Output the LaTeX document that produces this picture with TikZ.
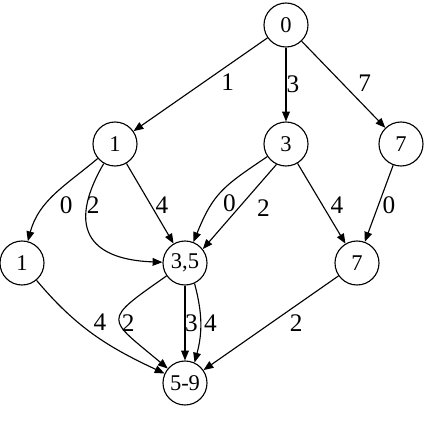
\documentclass[tikz,border=0pt]{standalone}
\usepackage{fontspec}
\setmainfont{Liberation Serif}
\usetikzlibrary{arrows.meta}

\begin{document}
\begin{tikzpicture}[
  st/.style={circle, draw, line width=0.8pt, minimum size=1.1cm, inner sep=0pt, font=\fontsize{16}{18}\selectfont},
  ed/.style={-{Triangle[length=7pt,width=5.5pt]}, line width=0.8pt},
  lbl/.style={font=\fontsize{18}{20}\selectfont, inner sep=0pt}
]
\useasboundingbox (0,0) rectangle (10.6,-11.05);
\node[st] (n0) at (7.15,-0.625) {0};
\node[st] (n1) at (2.875,-3.6) {1};
\node[st] (n3) at (7.15,-3.6) {3};
\node[st] (n7a) at (10.025,-3.6) {7};
\node[st] (n1b) at (0.55,-6.575) {1};
\node[st] (n35) at (4.625,-6.575) {3,5};
\node[st] (n7b) at (8.925,-6.575) {7};
\node[st] (n59) at (4.625,-9.575) {5-9};

\draw[ed] (n0) -- node[lbl, pos=0.35, xshift=5pt, yshift=-8pt] {1} (n1);
\draw[ed] (n0) -- node[lbl, xshift=5pt] {3} (n3);
\draw[ed] (n0) -- node[lbl, xshift=15pt, yshift=1pt] {7} (n7a);

\draw[ed] (n1) to[out=220, in=75] node[lbl, pos=0.6, xshift=13pt, yshift=-2pt] {0} (n1b);
\draw[ed] (n1) to[out=240, in=178, out looseness=2, in looseness=1.25] node[lbl, pos=0.2, xshift=4.3pt, yshift=-1.4pt] {2} (n35);
\draw[ed] (n1) -- node[lbl, xshift=8.5pt, yshift=-1pt] {4} (n35);
\draw[ed] (n3) to[out=214, in=68, looseness=1.2] node[lbl, pos=0.6, xshift=10pt, yshift=-3pt] {0} (n35);
\draw[ed] (n3.245) -- node[lbl, xshift=17pt, yshift=-1pt] {2} (n35.38);
\draw[ed] (n3) -- node[lbl, xshift=11pt, yshift=-1pt] {4} (n7b);
\draw[ed] (n7a) -- node[lbl, xshift=7pt, yshift=-1pt] {0} (n7b);

\draw[ed] (n1b) to[out=-50, in=155] node[lbl, xshift=4pt, yshift=8.7pt] {4} (n59);
\draw[ed] (n35) to[out=215, in=140, looseness=2.2] node[lbl, xshift=6pt, yshift=-2pt] {2} (n59);
\draw[ed] (n35) -- node[lbl, xshift=4.6pt] {3} (n59);
\draw[ed] (n35.-65) to[bend left=15] node[lbl, xshift=7pt] {4} (n59.65);
\draw[ed] (n7b) -- node[lbl, xshift=18pt] {2} (n59);
\end{tikzpicture}
\end{document}
